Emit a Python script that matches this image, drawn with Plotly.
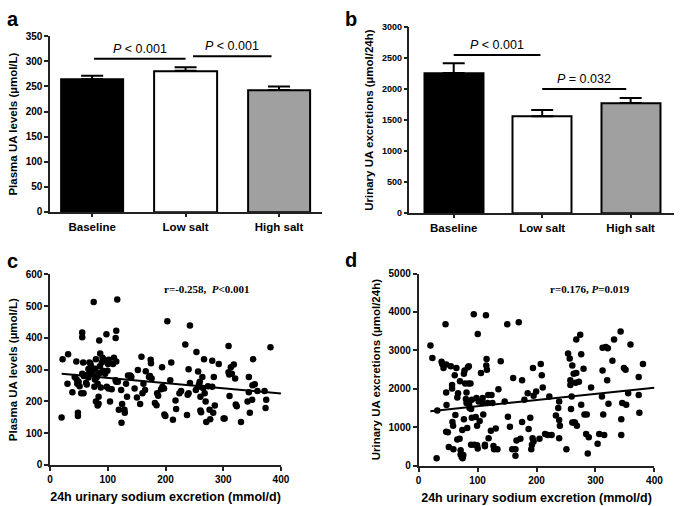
import plotly.graph_objects as go

# ---------------- Data ----------------
groups = ["Baseline", "Low salt", "High salt"]
plasma_mean = [264, 281, 243]
plasma_err = [7, 7, 7]
urinary_mean = [2261, 1564, 1775]
urinary_err = [158, 100, 84]
bar_colors = ["#000000", "#ffffff", "#a0a0a0"]

# panel c: sodium excretion vs plasma UA
c_x = [19.9, 21.6, 31.2, 30.1, 38.6, 42.6, 45.4, 46.0, 47.1, 48.2, 48.2, 49.4, 51.1, 55.6, 55.6,
       53.9, 57.9, 57.3, 55.6, 58.4, 62.4, 63.5, 64.1, 66.4, 66.4, 68.1, 69.8, 70.9, 72.1, 73.8,
       75.5, 76.6, 77.7, 78.3, 79.4, 79.4, 82.3, 84.0, 81.1, 82.3, 84.0, 85.1, 85.1, 86.2, 86.8,
       87.9, 89.6, 90.8, 91.3, 93.6, 95.3, 97.6, 98.2, 99.3, 100.4, 101.6, 101.0, 103.8, 106.7,
       108.9, 110.6, 113.5, 114.6, 116.3, 114.6, 113.5, 114.6, 117.4, 119.1, 123.1, 123.7, 124.8,
       128.8, 129.4, 131.6, 133.3, 135.0, 139.0, 140.7, 146.4, 150.4, 152.1, 156.0, 158.3, 160.0,
       161.7, 164.5, 165.7, 174.2, 174.8, 171.3, 173.0, 175.9, 181.6, 184.4, 185.5, 187.2, 192.3,
       194.0, 194.6, 197.4, 198.0, 199.7, 203.1, 208.2, 209.9, 212.8, 217.3, 218.4, 224.1, 227.0,
       234.3, 238.3, 240.0, 237.2, 240.0, 242.3, 242.3, 253.6, 252.5, 256.5, 257.0, 258.2, 259.3,
       260.4, 260.4, 261.6, 263.8, 265.0, 266.7, 267.8, 269.5, 270.6, 273.5, 276.3, 277.4, 280.9,
       280.9, 282.6, 283.7, 285.4, 292.2, 300.7, 302.4, 309.2, 310.4, 309.2, 310.9, 313.2, 314.9,
       318.3, 320.6, 321.7, 323.4, 330.8, 342.1, 344.4, 344.4, 346.1, 350.1, 350.6, 351.8, 354.6,
       359.1, 371.6, 373.3, 374.5, 381.8]
c_y = [149, 333, 349, 256, 229, 277, 326, 269, 256, 164, 154, 262, 248, 417, 402,
       226, 226, 323, 287, 280, 259, 253, 284, 302, 275, 323, 320, 311, 297, 289,
       513, 246, 269, 303, 333, 200, 187, 193, 277, 256, 215, 392, 289, 311, 351,
       244, 323, 338, 297, 331, 287, 412, 246, 297, 318, 331, 241, 200, 238,
       318, 338, 400, 423, 521, 326, 267, 262, 262, 174, 236, 133, 192,
       174, 164, 256, 215, 282, 282, 277, 241, 212, 299, 192, 341, 226,
       256, 236, 295, 331, 320, 277, 280, 272, 195, 188, 226, 218, 238,
       308, 246, 241, 159, 154, 453, 267, 323, 142, 203, 176, 226, 233,
       379, 221, 226, 157, 301, 439, 258, 356, 236, 294, 246, 254, 262,
       215, 171, 166, 277, 242, 333, 226, 200, 135, 248, 174, 144, 328,
       246, 164, 277, 187, 318, 146, 146, 292, 285, 375, 217, 308, 287,
       316, 272, 190, 185, 135, 200, 277, 229, 164, 205, 251, 333, 254,
       233, 233, 179, 205, 371]
c_fit_x = [20, 400]
c_fit_y = [287, 225]

# panel d: sodium excretion vs urinary UA
d_x = [20.1, 23.4, 30.6, 31.8, 39.0, 40.1, 42.3, 45.7, 46.8, 47.4, 46.8, 49.6, 46.8, 51.3,
       54.6, 56.8, 56.8, 57.4, 58.5, 59.1, 61.3, 62.4, 64.1, 65.7, 65.7, 66.9, 69.6, 70.2,
       71.3, 71.3, 73.0, 74.1, 74.7, 75.2, 75.8, 76.9, 76.9, 78.0, 79.1, 80.2, 81.3, 81.3,
       82.5, 83.6, 84.7, 85.2, 85.8, 86.4, 88.0, 89.1, 89.1, 90.3, 90.3, 93.6, 94.7, 96.9,
       98.1, 99.2, 99.2, 100.3, 100.3, 101.9, 103.6, 105.8, 108.6, 108.6, 109.7, 112.5, 112.5,
       114.2, 114.8, 115.3, 115.9, 117.0, 118.1, 118.7, 122.6, 123.7, 125.3, 127.0, 128.1,
       130.9, 133.7, 135.4, 139.3, 146.0, 150.4, 151.5, 154.9, 158.8, 160.4, 164.3, 164.3,
       166.0, 169.9, 172.7, 175.5, 175.5, 179.4, 185.0, 186.6, 189.4, 191.1, 192.2, 193.3,
       193.9, 195.0, 195.0, 199.4, 205.0, 207.2, 208.9, 210.6, 214.5, 218.9, 221.7, 225.6,
       232.9, 236.8, 238.4, 238.4, 238.4, 239.6, 250.7, 253.5, 256.3, 257.4, 257.4, 258.5,
       259.6, 260.7, 260.7, 263.0, 263.0, 265.2, 266.3, 267.4, 267.4, 268.5, 271.9, 274.1,
       275.8, 275.8, 279.7, 281.3, 284.1, 285.2, 286.9, 288.6, 292.5, 303.6, 306.4, 310.9,
       312.0, 312.0, 313.1, 314.8, 317.5, 319.8, 320.9, 322.0, 328.7, 331.5, 343.7, 342.6,
       343.7, 345.4, 348.2, 351.0, 352.1, 355.4, 359.3, 373.3, 373.3, 374.4, 380.5]
d_y = [3130, 2800, 195, 1438, 2707, 2648, 2546, 3680, 2631, 1582, 1903, 871, 888, 491,
       2589, 2098, 2013, 1142, 1040, 431, 2352, 1320, 2546, 1777, 685, 1887, 702, 2200,
       406, 296, 237, 930, 195, 262, 280, 2394, 1210, 2479, 2140, 1734, 1903, 1633,
       981, 2563, 2140, 2589, 1590, 1506, 2140, 550, 1480, 1717, 1252, 3942, 550, 1269,
       1760, 1040, 533, 3426, 448, 1675, 1167, 2411, 1760, 1633, 1337, 550, 508,
       3917, 2606, 2775, 2496, 1633, 1844, 719, 914, 1844, 1633, 516, 431,
       973, 431, 1988, 2716, 1675, 3680, 1277, 1015, 431, 2284, 431, 262,
       660, 3731, 702, 2225, 1142, 1717, 1887, 956, 1252, 431, 550, 719,
       2546, 1819, 634, 1929, 702, 2648, 2352, 2039, 829, 804, 1802, 804,
       1311, 1506, 1675, 719, 1193, 1040, 431, 2919, 2792, 2225, 2098, 1480,
       1802, 1125, 2606, 1125, 2394, 1125, 2157, 3282, 2411, 1040, 2183, 3409,
       2902, 1590, 2521, 1337, 829, 1337, 321, 744, 2039, 575, 829, 1802,
       2479, 3071, 1337, 804, 3088, 2225, 3054, 1616, 2733, 3282, 804, 3494,
       1210, 1633, 2546, 2496, 1590, 1887, 3156, 2310, 1844, 1379, 2648]
d_fit_x = [20, 400]
d_fit_y = [1421, 2030]

# ---------------- Figure ----------------
FONT = "Liberation Sans, Arial, sans-serif"
SERIF = "Liberation Serif, Times New Roman, serif"
AX = "#222222"

fig = go.Figure()
xpos = list(range(len(groups)))

fig.add_trace(go.Bar(
    x=xpos, y=plasma_mean, width=0.67,
    marker=dict(color=bar_colors, line=dict(color="black", width=2)),
    error_y=dict(type="data", array=plasma_err, arrayminus=[0] * 3, symmetric=False,
                 color="black", thickness=2, width=11),
    xaxis="x", yaxis="y", showlegend=False))

fig.add_trace(go.Bar(
    x=xpos, y=urinary_mean, width=0.67,
    marker=dict(color=bar_colors, line=dict(color="black", width=2)),
    error_y=dict(type="data", array=urinary_err, arrayminus=[0] * 3, symmetric=False,
                 color="black", thickness=2, width=11),
    xaxis="x2", yaxis="y2", showlegend=False))

fig.add_trace(go.Scatter(x=c_x, y=c_y, mode="markers",
                         marker=dict(color="black", size=6.5),
                         xaxis="x3", yaxis="y3", showlegend=False))
fig.add_trace(go.Scatter(x=c_fit_x, y=c_fit_y, mode="lines",
                         line=dict(color="black", width=2),
                         xaxis="x3", yaxis="y3", showlegend=False))
fig.add_trace(go.Scatter(x=d_x, y=d_y, mode="markers",
                         marker=dict(color="black", size=6.5),
                         xaxis="x4", yaxis="y4", showlegend=False))
fig.add_trace(go.Scatter(x=d_fit_x, y=d_fit_y, mode="lines",
                         line=dict(color="black", width=2),
                         xaxis="x4", yaxis="y4", showlegend=False))

titlef = dict(family=FONT, size=11.5, color="black", weight="bold")

def yax(domain, rng, dtick, title, anchor, tsize):
    return dict(domain=domain, range=rng, dtick=dtick, anchor=anchor,
                showline=True, linecolor=AX, linewidth=1.5, ticks="outside",
                ticklen=4, tickwidth=1.5, tickcolor=AX, showgrid=False, zeroline=False,
                tickfont=dict(family=FONT, size=tsize, color="black", weight="bold"),
                title=dict(text=title, font=titlef, standoff=6))

def xbar(domain, rng, anchor):
    return dict(domain=domain, range=rng, anchor=anchor, tickmode="array",
                tickvals=xpos, ticktext=groups, showline=True, linecolor=AX,
                linewidth=1.5, ticks="outside", ticklen=3, tickwidth=1.5, tickcolor=AX,
                showgrid=False, zeroline=False,
                tickfont=dict(family=FONT, size=11.5, color="black", weight="bold"))

def xsc(domain, anchor):
    return dict(domain=domain, range=[0, 400], dtick=100, anchor=anchor,
                showline=True, linecolor=AX, linewidth=1.5, ticks="outside",
                ticklen=4, tickwidth=1.5, tickcolor=AX, showgrid=False, zeroline=False,
                tickfont=dict(family=FONT, size=10, color="black", weight="bold"),
                title=dict(text="24h urinary sodium excretion (mmol/d)",
                           font=dict(family=FONT, size=12.5, color="black", weight="bold"),
                           standoff=9))

fig.update_layout(
    width=685, height=506,
    margin=dict(l=0, r=0, t=0, b=0),
    paper_bgcolor="white", plot_bgcolor="white",
    bargap=0,
    xaxis=xbar([0.070, 0.474], [-0.45, 2.46], "y"),
    yaxis=yax([0.583, 0.939], [0, 350], 50, "Plasma UA levels (µmol/L)", "x", 10),
    xaxis2=xbar([0.604, 0.997], [-0.5, 2.49], "y2"),
    yaxis2=yax([0.581, 0.957], [0, 3000], 500, "Urinary UA excretions (µmol/24h)", "x2", 9),
    xaxis3=xsc([0.070, 0.413], "y3"),
    yaxis3=yax([0.0711, 0.4565], [0, 600], 100, "Plasma UA levels (µmol/L)", "x3", 10),
    xaxis4=xsc([0.6175, 0.968], "y4"),
    yaxis4=yax([0.0692, 0.4585], [0, 5000], 1000, "Urinary UA excretions (µmol/24h)", "x4", 10),
)

# significance brackets
brackets = [
    ("x", "y", 0.02, 1.0, 305, "<i>P</i> < 0.001"),
    ("x", "y", 1.08, 1.92, 310, "<i>P</i> < 0.001"),
    ("x2", "y2", 0.0, 0.98, 2551, "<i>P</i> < 0.001"),
    ("x2", "y2", 1.0, 1.95, 2002, "<i>P</i> = 0.032"),
]
for xa, ya, x0, x1, yv, txt in brackets:
    fig.add_shape(type="line", xref=xa, yref=ya, x0=x0, x1=x1, y0=yv, y1=yv,
                  line=dict(color="black", width=2))
    fig.add_annotation(xref=xa, yref=ya, x=(x0 + x1) / 2, y=yv, text=txt,
                       showarrow=False, yanchor="bottom", yshift=1,
                       font=dict(family=FONT, size=12.5, color="black"))

# correlation labels
fig.add_annotation(xref="x3", yref="y3", x=272, y=555, text="r=-0.258,  <i>P</i><0.001",
                   showarrow=False, font=dict(family=SERIF, size=11, color="black", weight="bold"))
fig.add_annotation(xref="x4", yref="y4", x=291, y=4600, text="r=0.176, <i>P</i>=0.019",
                   showarrow=False, font=dict(family=SERIF, size=11, color="black", weight="bold"))

# panel letters
for txt, px, py in [("a", 0.003, 1.0), ("b", 0.505, 1.0), ("c", 0.003, 0.51), ("d", 0.505, 0.512)]:
    fig.add_annotation(xref="paper", yref="paper", x=px, y=py, text=txt, showarrow=False,
                       xanchor="left", yanchor="top",
                       font=dict(family=FONT, size=20, color="black", weight="bold"))

fig.write_html("out.html", config={"displayModeBar": False},
               post_script="document.body.style.margin='0';")
